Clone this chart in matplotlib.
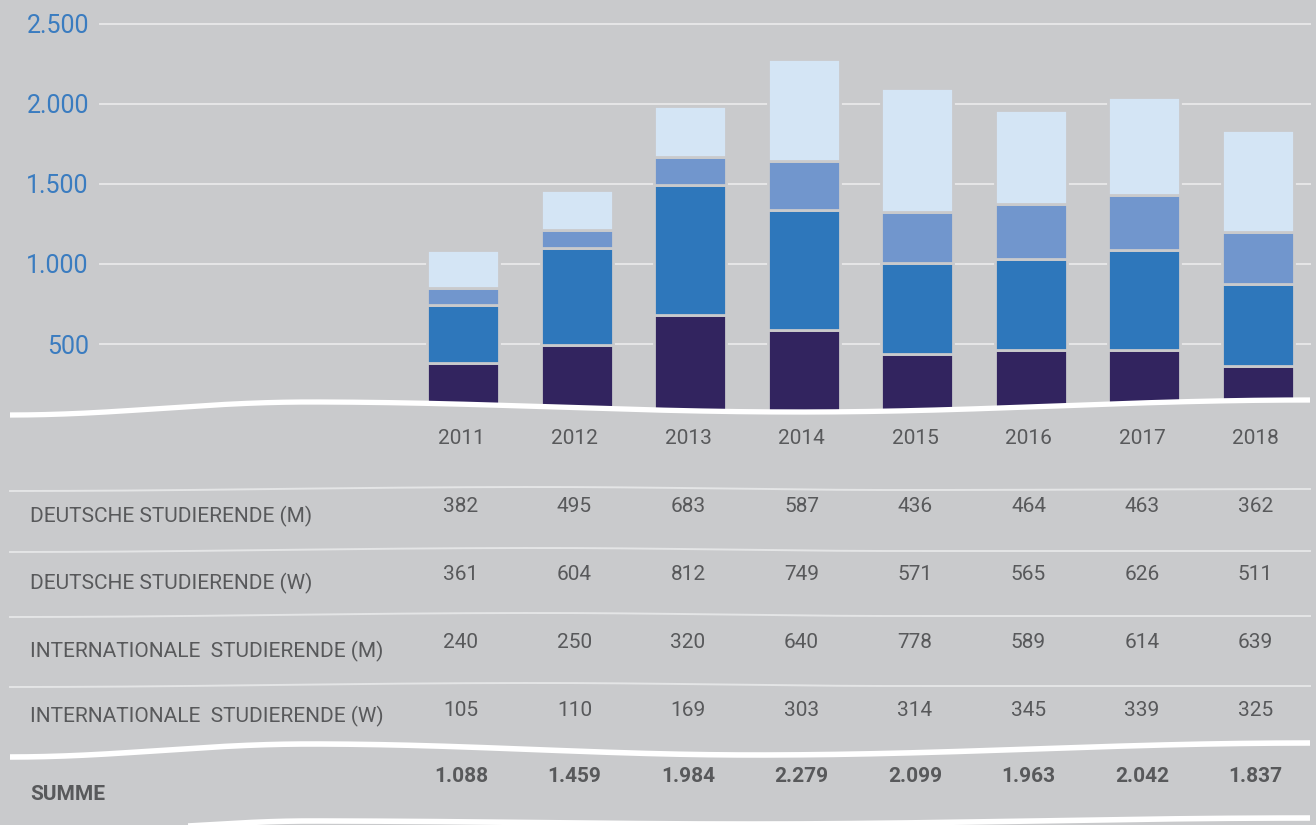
import numpy as np
import matplotlib
matplotlib.use("Agg")
import matplotlib.pyplot as plt

# ---------------- data ----------------
years = ["2011", "2012", "2013", "2014", "2015", "2016", "2017", "2018"]
deutsche_m = [382, 495, 683, 587, 436, 464, 463, 362]
deutsche_w = [361, 604, 812, 749, 571, 565, 626, 511]
international_m = [240, 250, 320, 640, 778, 589, 614, 639]
international_w = [105, 110, 169, 303, 314, 345, 339, 325]
summe = [1088, 1459, 1984, 2279, 2099, 1963, 2042, 1837]
row_labels = ["DEUTSCHE STUDIERENDE (M)", "DEUTSCHE STUDIERENDE (W)",
              "INTERNATIONALE  STUDIERENDE (M)", "INTERNATIONALE  STUDIERENDE (W)"]
y_ticks = [500, 1000, 1500, 2000, 2500]

# ---------------- style ----------------
BG = "#c9cacc"
TXT = "#58595b"
BLUE = "#3a7cc0"
C_DM = "#32245f"
C_DW = "#2e77bb"
C_IW = "#7196cd"
C_IM = "#d4e5f5"
FONT = "Roboto"

W, H = 1316, 825
fig = plt.figure(figsize=(W / 100, H / 100), dpi=100, facecolor=BG)

# main chart axes spanning the figure; scale fitted to the tick positions
ax = fig.add_axes([0, 0, 1, 1])
ax.set_facecolor(BG)
ppu = (344 - 23.5) / 2000.0          # pixels per unit
zero_px = 344 + 500 * ppu
ax.set_ylim((zero_px - H) / ppu, zero_px / ppu)
x0, step = 463.0, 113.5
ax.set_xlim(-x0 / step, (W - x0) / step)
xs = np.arange(len(years))

for v in y_ticks:
    ax.axhline(v, xmin=100 / W, xmax=1310 / W, color="#e6e6e7", lw=1.4, zorder=1)

series = [(deutsche_m, C_DM), (deutsche_w, C_DW), (international_w, C_IW), (international_m, C_IM)]
bottom = np.zeros(len(years))
for vals, col in series:
    ax.bar(xs, vals, width=72 / step, bottom=bottom, color=col,
           edgecolor=BG, linewidth=2.0, zorder=2)
    bottom += np.array(vals)

ax.set_xticks([])
ax.set_yticks(y_ticks, labels=[f"{v:,}".replace(",", ".") for v in y_ticks])
ax.tick_params(axis="y", length=0, pad=-64, labelsize=18, labelcolor=BLUE)
for lbl in ax.get_yticklabels():
    lbl.set_fontfamily(FONT)
for s in ax.spines.values():
    s.set_visible(False)

# ---------------- overlay (table + decorations) in pixel coordinates ----------------
ov = fig.add_axes([0, 0, 1, 1], zorder=3)
ov.set_xlim(0, W)
ov.set_ylim(H, 0)
ov.axis("off")
ov.patch.set_alpha(0)


def smooth(points, n=600):
    pts = np.array(points, dtype=float)
    xx = np.linspace(pts[0, 0], pts[-1, 0], n)
    yy = np.empty_like(xx)
    for i, xv in enumerate(xx):
        k = np.searchsorted(pts[:, 0], xv, side="right") - 1
        k = min(max(k, 0), len(pts) - 2)
        xa, ya = pts[k]
        xb, yb = pts[k + 1]
        t = (xv - xa) / (xb - xa)
        s = (1 - np.cos(np.pi * t)) / 2
        yy[i] = ya + (yb - ya) * s
    return xx, yy


# wave under the bars
wx, wy = smooth([(10, 415), (310, 402), (800, 412), (1310, 400)])
ov.fill_between(wx, wy + 1, 450, color=BG, lw=0)
ov.plot(wx, wy, color="white", lw=3.8, solid_capstyle="butt")

# thin row separators
for pts in [[(10, 491), (540, 487), (900, 490), (1310, 489)],
            [(10, 552), (540, 548), (900, 551), (1310, 551)],
            [(10, 617), (540, 613), (900, 616), (1310, 616)],
            [(10, 687), (540, 683), (900, 686), (1310, 686)]]:
    sx, sy = smooth(pts)
    ov.plot(sx, sy, color="#e4e5e6", lw=1.4)

# thick waves around the sum row
for pts, lw in [([(10, 757), (310, 744), (756, 755), (1310, 743)], 4.0),
                ([(100, 829), (310, 821), (750, 824), (1310, 818)], 4.0)]:
    sx, sy = smooth(pts)
    ov.plot(sx, sy, color="white", lw=lw, solid_capstyle="butt")

col_x = [x0 - 2 + step * i for i in range(len(years))]

for cx, yr in zip(col_x, years):
    ov.text(cx, 438, yr, ha="center", va="center", fontsize=15, color=TXT, family=FONT)

rows = [deutsche_m, deutsche_w, international_m, international_w]
val_y = [507, 575, 643, 711]
lab_y = [516, 583, 651, 716]
for lab, vals, vy, ly in zip(row_labels, rows, val_y, lab_y):
    ov.text(30, ly, lab, ha="left", va="center", fontsize=15, color=TXT, family=FONT)
    for cx, v in zip(col_x, vals):
        ov.text(cx, vy, str(v), ha="center", va="center", fontsize=15, color=TXT, family=FONT)

ov.text(30, 795, "SUMME", ha="left", va="center", fontsize=15, color=TXT,
        family=FONT, fontweight="bold")
for cx, v in zip(col_x, summe):
    ov.text(cx, 777, f"{v:,}".replace(",", "."), ha="center", va="center", fontsize=15,
            color=TXT, family=FONT, fontweight="bold")

fig.savefig("out.png", dpi=100, facecolor=BG)
